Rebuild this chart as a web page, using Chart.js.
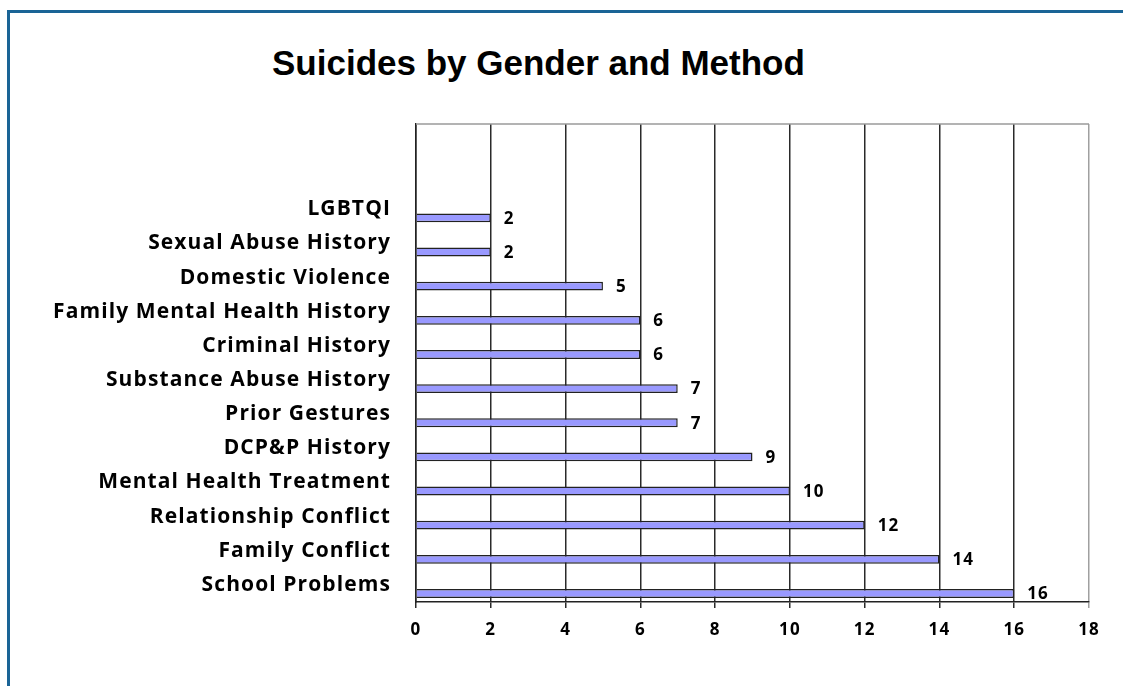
<!DOCTYPE html>
<html>
<head>
<meta charset="utf-8">
<script src="https://cdn.jsdelivr.net/npm/chart.js@4"></script>
<style>
  html, body { margin: 0; padding: 0; background: #fff; }
  #wrap { position: relative; width: 1123px; height: 686px; overflow: hidden; }
  #frame {
    position: absolute; left: 7px; top: 10px; width: 1200px; height: 800px;
    border-top: 3px solid #1a6496; border-left: 3px solid #1a6496;
  }
  #title {
    position: absolute; left: 272px; top: 43px;
    font: bold 35px "Liberation Sans", Arial, sans-serif; color: #000;
    white-space: nowrap;
  }
  #chart-box { position: absolute; left: 0; top: 0; width: 1123px; height: 686px; }
</style>
</head>
<body>
<div id="wrap">
  <div id="frame"></div>
  <div id="title">Suicides by Gender and Method</div>
  <div id="chart-box"><canvas id="factors-chart"></canvas></div>
</div>
<script>
// two blank slots at the top, like the original sheet
const categories = [
    '', '',
    'LGBTQI',
    'Sexual Abuse History',
    'Domestic Violence',
    'Family Mental Health History',
    'Criminal History',
    'Substance Abuse History',
    'Prior Gestures',
    'DCP&P History',
    'Mental Health Treatment',
    'Relationship Conflict',
    'Family Conflict',
    'School Problems',
];
// first series is empty in the source chart
const emptySeries = [null, null, null, null, null, null, null, null, null, null, null, null, null, null];
const counts = [null, null, 2, 2, 5, 6, 6, 7, 7, 9, 10, 12, 14, 16];
const xTicks = [0, 2, 4, 6, 8, 10, 12, 14, 16, 18];

const labelFont = '"Open Sans", "Lato", sans-serif';

// the old office renderer spaces its letters out a little
const wideText = {
    id: 'wideText',
    beforeDraw(chart) {
        chart.ctx.letterSpacing = '1.1px';
    },
};

const valueLabels = {
    id: 'valueLabels',
    afterDatasetsDraw(chart) {
        const c = chart.ctx;
        const meta = chart.getDatasetMeta(1);
        c.save();
        c.font = `bold 17px ${labelFont}`;
        c.fillStyle = '#000';
        c.textAlign = 'left';
        c.textBaseline = 'middle';
        meta.data.forEach((bar, i) => {
            if (counts[i] == null) return;
            c.fillText(String(counts[i]), bar.x + 13, bar.y + 1);
        });
        c.restore();
    },
};

const plotTop = {
    id: 'plotTop',
    beforeDatasetsDraw(chart) {
        const a = chart.chartArea;
        const c = chart.ctx;
        c.save();
        c.strokeStyle = '#9a9a9a';
        c.lineWidth = 1.5;
        c.beginPath();
        c.moveTo(a.left, a.top);
        c.lineTo(a.right, a.top);
        c.stroke();
        c.restore();
    },
};

const ctx = document.getElementById('factors-chart').getContext('2d');
const chart = new Chart(ctx, {
    type: 'bar',
    data: {
        labels: categories,
        datasets: [
            { label: 'Series 1', data: emptySeries, backgroundColor: '#9999ff', borderColor: '#222', borderWidth: 1.5 },
            { label: 'Series 2', data: counts, backgroundColor: '#9999ff', borderColor: '#222', borderWidth: 1.5 },
        ],
    },
    options: {
        indexAxis: 'y',
        animation: false,
        responsive: true,
        maintainAspectRatio: false,
        categoryPercentage: 1,
        barPercentage: 0.52,
        layout: { padding: { left: 0, top: 124, right: 34, bottom: 0 } },
        scales: {
            x: {
                min: 0,
                max: 18,
                afterBuildTicks: (scale) => { scale.ticks = xTicks.map(v => ({ value: v })); },
                afterFit: (scale) => { scale.height = 84; },
                grid: {
                    color: (c) => (c.tick && c.tick.value === 18 ? '#a0a0a0' : '#2a2a2a'),
                    lineWidth: 1.5,
                    tickLength: 6,
                },
                border: { color: '#222', width: 1.5 },
                ticks: {
                    color: '#000',
                    padding: 12,
                    font: { family: labelFont, size: 17, weight: 'bold' },
                },
            },
            y: {
                afterFit: (scale) => { scale.width = 416; },
                grid: { display: false, drawTicks: false },
                border: { color: '#222', width: 1.5 },
                ticks: {
                    color: '#000',
                    padding: 25,
                    autoSkip: false,
                    font: { family: labelFont, size: 21, weight: 'bold' },
                },
            },
        },
        plugins: {
            legend: { display: false },
            tooltip: { enabled: false },
        },
    },
    plugins: [wideText, plotTop, valueLabels],
});
</script>
</body>
</html>
